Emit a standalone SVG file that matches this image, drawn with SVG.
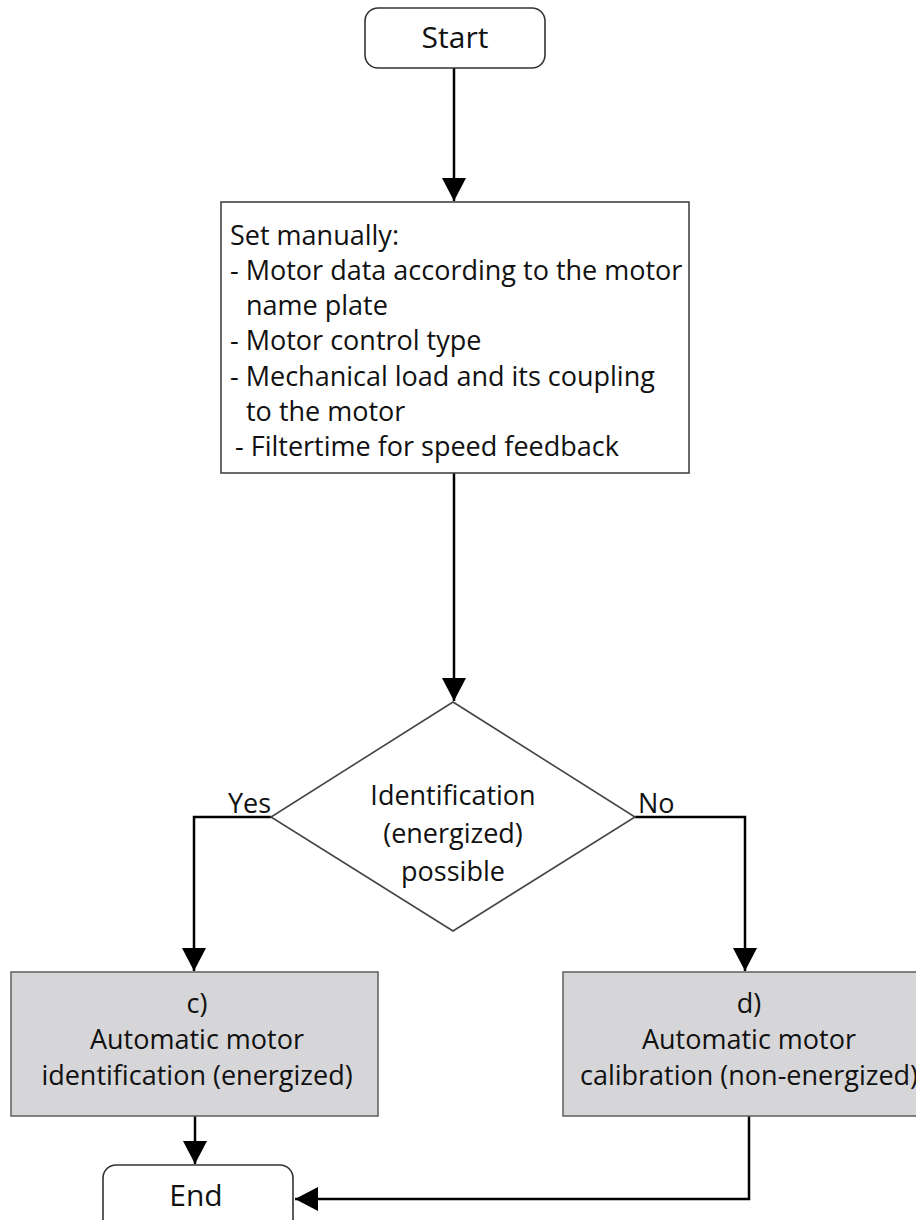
<svg xmlns="http://www.w3.org/2000/svg" width="916" height="1220" viewBox="0 0 916 1220">
  <defs>
    <marker id="arrow" markerWidth="24" markerHeight="24" viewBox="0 0 24 24" refX="23" refY="12" orient="auto" markerUnits="userSpaceOnUse">
      <path d="M0,0 L23,12 L0,24 Z" fill="#000"/>
    </marker>
  </defs>
  <style>
    .term { fill: #ffffff; stroke: #333; stroke-width: 1.6; }
    .proc { fill: #ffffff; stroke: #444; stroke-width: 1.6; }
    .dec { fill: #ffffff; stroke: #444; stroke-width: 1.6; }
    .auto { fill: #d6d6d8; stroke: #666; stroke-width: 1.6; }
    .edge { fill: none; stroke: #000; stroke-width: 2.5; }
    text { font-family: "Open Sans", "Noto Sans", "Liberation Sans", sans-serif; fill: #111; }
    .t { font-size: 27px; }
    .big { font-size: 30px; }
    .mid { text-anchor: middle; }
  </style>
  <rect width="916" height="1220" fill="#ffffff"/>

  <!-- connectors -->
  <g id="connectors">
    <line class="edge" x1="454" y1="68" x2="454" y2="201" marker-end="url(#arrow)"/>
    <line class="edge" x1="454" y1="473" x2="454" y2="701" marker-end="url(#arrow)"/>
    <polyline class="edge" points="271,817 194,817 194,971" marker-end="url(#arrow)"/>
    <polyline class="edge" points="635,817 745,817 745,971" marker-end="url(#arrow)"/>
    <line class="edge" x1="195" y1="1116" x2="195" y2="1164" marker-end="url(#arrow)"/>
    <polyline class="edge" points="749,1116 749,1199 295,1199" marker-end="url(#arrow)"/>
    <text class="t" x="228" y="813">Yes</text>
    <text class="t" x="638" y="813">No</text>
  </g>

  <g id="start">
    <rect class="term" x="365" y="8" width="180" height="60" rx="13"/>
    <text class="big mid" x="455" y="48">Start</text>
  </g>

  <g id="set-manually">
    <rect class="proc" x="221" y="202" width="468" height="271"/>
    <text class="t" x="230" y="245">Set manually:</text>
    <text class="t" x="230" y="280">- Motor data according to the motor</text>
    <text class="t" x="246" y="315">name plate</text>
    <text class="t" x="230" y="350">- Motor control type</text>
    <text class="t" x="230" y="386">- Mechanical load and its coupling</text>
    <text class="t" x="246" y="421">to the motor</text>
    <text class="t" x="235" y="456">- Filtertime for speed feedback</text>
  </g>

  <g id="decision">
    <polygon class="dec" points="453,702 635,817 453,931 271,817"/>
    <text class="t mid" x="453" y="805">Identification</text>
    <text class="t mid" x="453" y="843">(energized)</text>
    <text class="t mid" x="453" y="881">possible</text>
  </g>

  <g id="identification">
    <rect class="auto" x="11" y="972" width="367" height="144"/>
    <text class="t mid" x="197" y="1013">c)</text>
    <text class="t mid" x="197" y="1049">Automatic motor</text>
    <text class="t mid" x="197" y="1085">identification (energized)</text>
  </g>

  <g id="calibration">
    <rect class="auto" x="563" y="972" width="367" height="144"/>
    <text class="t mid" x="749" y="1013">d)</text>
    <text class="t mid" x="749" y="1049">Automatic motor</text>
    <text class="t mid" x="749" y="1085">calibration (non-energized)</text>
  </g>

  <g id="end">
    <rect class="term" x="103" y="1165" width="190" height="70" rx="13"/>
    <text class="big mid" x="196" y="1206">End</text>
  </g>
</svg>
